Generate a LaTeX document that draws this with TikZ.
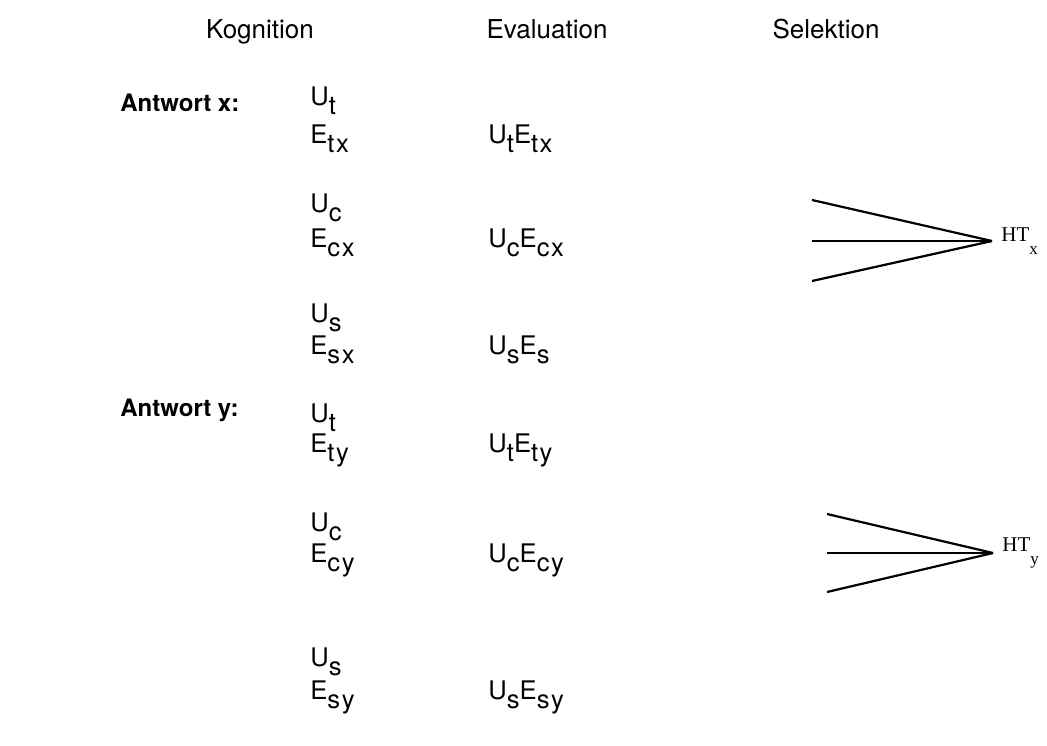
\documentclass[tikz,border=0pt]{standalone}
\usepackage{fontspec}
\setmainfont{TeX Gyre Heros}
\newfontfamily\htfont{Liberation Serif}
\newfontfamily\termfont[LetterSpace=6]{TeX Gyre Heros}
\usetikzlibrary{positioning}
\newcommand{\lo}[1]{\raisebox{-4.5pt}{\fontsize{12.8}{13}\selectfont #1}}
\newcommand{\htlabel}[1]{{\htfont\fontsize{10.5}{10}\selectfont HT}\raisebox{-6.5pt}{\htfont\fontsize{8.5}{8}\selectfont #1}}

\begin{document}
\begin{tikzpicture}[x=0.5pt,y=-0.5pt,
    every node/.style={inner sep=0pt,font=\fontsize{12.4}{14}\selectfont},
    head/.style={anchor=base,font=\fontsize{13}{15}\selectfont},
    answer/.style={anchor=west,font=\fontsize{12}{14}\selectfont\bfseries},
    term/.style={anchor=west,font=\termfont\fontsize{12.8}{14}\selectfont},
    fan/.style={line width=1.1pt}]
        \useasboundingbox (0,0) rectangle (1047,745);

        % column heads
        \node[head] (kog) at (260,38) {Kognition};
        \node[head] (eva) at (547,38) {Evaluation};
        \node[head] (sel) at (826,38) {Selektion};

        \node[answer] (antx) at (120,103) {Antwort x:};
        \node[answer] (anty) at (120,410) {Antwort y:};

        % Kognition
        \foreach \v/\y/\t in
        {ut1/101/U\lo{t}, etx/139/E\lo{tx},
         uc1/208/U\lo{c}, ecx/243/E\lo{cx},
         us1/318/U\lo{s}, esx/350/E\lo{sx},
         ut2/418/U\lo{t}, ety/450/E\lo{ty},
         uc2/527/U\lo{c}, ecy/560/E\lo{cy},
         us2/662/U\lo{s}, esy/697/E\lo{sy}}
        {
            \node[term] (\v) at (310,\y) {\t};
        };

        % Evaluation
        \foreach \v/\y/\t in
        {vtx/139/U\lo{t}E\lo{tx},
         vcx/243/U\lo{c}E\lo{cx},
         vsx/350/U\lo{s}E\lo{s},
         vty/450/U\lo{t}E\lo{ty},
         vcy/560/U\lo{c}E\lo{cy},
         vsy/697/U\lo{s}E\lo{sy}}
        {
            \node[term] (\v) at (488,\y) {\t};
        };

        % Selektion
        \node[anchor=west,inner xsep=4.5pt] (htx) at (992,241) {\htlabel{x}};
        \node[anchor=west,inner xsep=4.5pt] (hty) at (993,553) {\htlabel{y}};

        \coordinate (x1) at (812,200);
        \coordinate (x2) at (812,241);
        \coordinate (x3) at (812,281);
        \coordinate (y1) at (827,514);
        \coordinate (y2) at (827,553);
        \coordinate (y3) at (827,592);

        \foreach \s in {x1,x2,x3}
            \draw[fan] (\s) -- (htx.west);
        \foreach \s in {y1,y2,y3}
            \draw[fan] (\s) -- (hty.west);
\end{tikzpicture}
\end{document}
